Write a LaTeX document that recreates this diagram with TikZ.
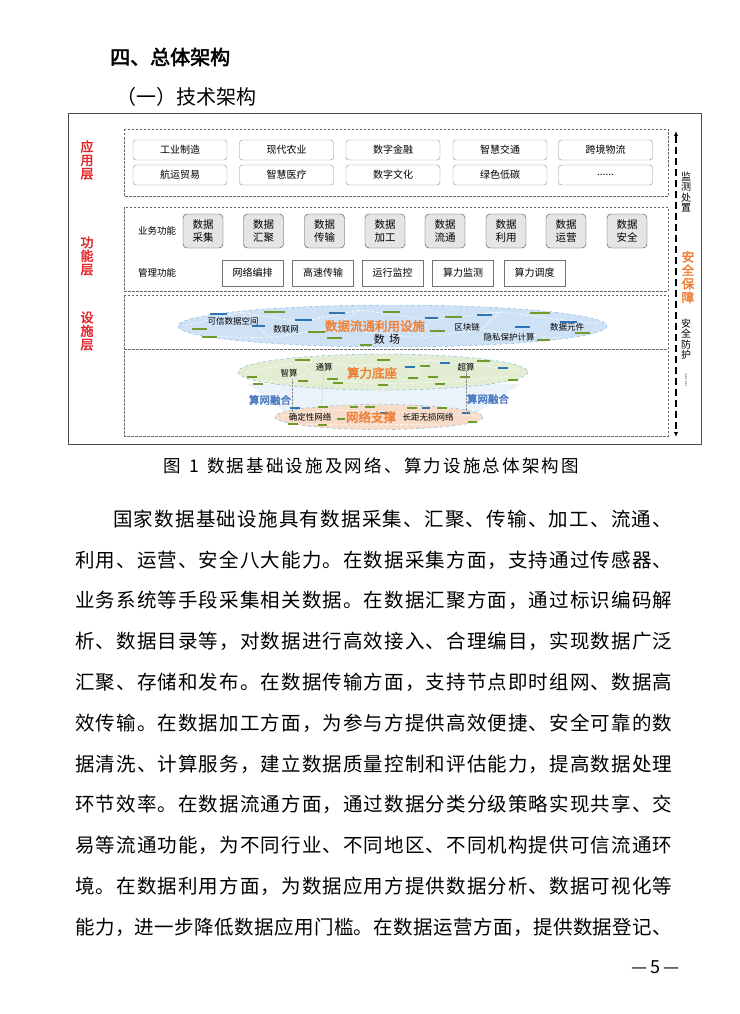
\documentclass[tikz,border=0pt]{standalone}
\usepackage{fontspec}
\setmainfont{Noto Sans CJK SC}
\newfontfamily\cjkb[FakeBold=2.5]{Noto Sans CJK SC}
\usetikzlibrary{arrows.meta}
\definecolor{lred}{HTML}{E3262A}
\definecolor{lorange}{HTML}{EE7F35}
\definecolor{lblue}{HTML}{4A78C2}
\definecolor{bfill}{HTML}{CFE2F5}
\definecolor{gfill}{HTML}{E2EDD3}
\definecolor{pfill}{HTML}{F8DCCA}
\definecolor{mfill}{HTML}{EAF3FA}
\definecolor{eline}{HTML}{6FB0DC}
\definecolor{barg}{HTML}{6E9B2A}
\definecolor{barb}{HTML}{2E75B6}
\makeatletter
\def\jl@a#1{\ifx#1\relax\else\hfil#1\expandafter\jl@a\fi}
\def\jl@b#1{#1\jl@a}
\newcommand\jline[2]{\hbox to #1{\jl@b#2\relax}}
\makeatother
\begin{document}
\begin{tikzpicture}[x=1pt,y=-1pt,
  frame/.style={draw=black!70,line width=0.8pt},
  dbox/.style={draw=black!60,dash pattern=on 2.5pt off 1.5pt,line width=0.6pt},
  appbox/.style={draw=black!45,rounded corners=3pt,minimum width=94,minimum height=20,inner sep=0pt,font=\fontsize{10}{12}\selectfont},
  bizbox/.style={draw=black!75,fill=black!10,rounded corners=4pt,minimum width=40,minimum height=34,inner sep=0pt,align=center,font=\fontsize{10.5}{13}\selectfont},
  mgbox/.style={draw=black!55,minimum width=61,minimum height=26,inner sep=0pt,font=\fontsize{10}{12}\selectfont},
  layer/.style={text=lred,align=center,inner sep=0pt,font=\cjkb\fontsize{13}{13.5}\selectfont},
  small/.style={inner sep=0pt,font=\fontsize{8.5}{10}\selectfont},
  otitle/.style={text=lorange,inner sep=0pt,font=\cjkb\fontsize{12.5}{14}\selectfont},
  btitle/.style={text=lblue,inner sep=0pt,font=\cjkb\fontsize{10.5}{12}\selectfont},
  body/.style={anchor=west,inner sep=0pt,font=\fontsize{19.5}{20}\selectfont},
  vtext/.style={align=center,inner sep=0pt,font=\fontsize{10}{10.5}\selectfont},
  gbar/.style={barg,line width=2.2pt},
  bbar/.style={barb,line width=2.2pt},
  mesh/.style={white,dash pattern=on 3pt off 2pt,line width=0.6pt,opacity=0.9}]
\fill[white] (0,0) rectangle (739,1014);
\useasboundingbox (0,0) rectangle (739,1014);

% headings
\node[anchor=west,inner sep=0pt,font=\cjkb\fontsize{20}{20}\selectfont] (h1) at (110,57) {四、总体架构};
\node[anchor=west,inner sep=0pt,font=\fontsize{20}{20}\selectfont] (h2) at (116,97) {（一）技术架构};

% frame and layer boxes
\draw[frame] (68,113) rectangle (701,444);
\draw[dbox] (124,129) rectangle (668,196);
\draw[dbox] (124,207) rectangle (668,291);
\draw[dbox] (124,295) rectangle (668,436);
\draw[dbox] (124,349) -- (668,349);

% layer labels
\node[layer] (la) at (87,160) {应\\用\\层};
\node[layer] (lf) at (87,256) {功\\能\\层};
\node[layer] (li) at (87,331) {设\\施\\层};

% application layer
\node[appbox] (a1) at (180,150) {工业制造};
\node[appbox] (a2) at (286.5,150) {现代农业};
\node[appbox] (a3) at (393,150) {数字金融};
\node[appbox] (a4) at (500,150) {智慧交通};
\node[appbox] (a5) at (605.5,150) {跨境物流};
\node[appbox] (b1) at (180,175) {航运贸易};
\node[appbox] (b2) at (286.5,175) {智慧医疗};
\node[appbox] (b3) at (393,175) {数字文化};
\node[appbox] (b4) at (500,175) {绿色低碳};
\node[appbox] (b5) at (605.5,175) {......};

% function layer
\node[inner sep=0pt,font=\fontsize{9.5}{11}\selectfont] (yw) at (157,231) {业务功能};
\node[inner sep=0pt,font=\fontsize{9.5}{11}\selectfont] (gl) at (157,273) {管理功能};
\node[bizbox] (f1) at (203,231) {数据\\采集};
\node[bizbox] (f2) at (263.5,231) {数据\\汇聚};
\node[bizbox] (f3) at (324.5,231) {数据\\传输};
\node[bizbox] (f4) at (385,231) {数据\\加工};
\node[bizbox] (f5) at (445,231) {数据\\流通};
\node[bizbox] (f6) at (506,231) {数据\\利用};
\node[bizbox] (f7) at (566,231) {数据\\运营};
\node[bizbox] (f8) at (627,231) {数据\\安全};
\node[mgbox] (m1) at (252.5,273) {网络编排};
\node[mgbox] (m2) at (323,273) {高速传输};
\node[mgbox] (m3) at (392.5,273) {运行监控};
\node[mgbox] (m4) at (463,273) {算力监测};
\node[mgbox] (m5) at (534.5,273) {算力调度};

% infrastructure layer
\fill[mfill] (248,384) -- (520,384) -- (478,412) -- (285,412) -- cycle;
\draw[eline,dashed,fill=bfill] (392.5,326) ellipse [x radius=214.5,y radius=21];
\draw[eline,dashed,fill=gfill] (383,372) ellipse [x radius=145,y radius=18];
\draw[eline,dashed,fill=pfill] (379,417) ellipse [x radius=104,y radius=12.5];

% mesh lines
\draw[mesh] (185,326) -- (240,312) -- (300,322) -- (360,310) -- (430,320) -- (500,312) -- (598,324);
\draw[mesh] (200,336) -- (270,338) -- (330,328) -- (420,338) -- (480,330) -- (560,338);
\draw[mesh] (240,312) -- (270,338) (360,310) -- (330,328) (430,320) -- (420,338) (500,312) -- (480,330);
\draw[mesh] (245,372) -- (300,362) -- (360,366) -- (430,360) -- (520,370);
\draw[mesh] (255,382) -- (320,380) -- (400,384) -- (470,380) -- (510,376);
\draw[mesh] (300,362) -- (320,380) (430,360) -- (400,384);
\draw[mesh] (282,416) -- (330,410) -- (400,412) -- (478,416);
\draw[mesh] (295,424) -- (360,425) -- (440,424);

% bars, blue ellipse
\foreach \a/\b/\y in {264/285/312,192/207/329,202/217/337,308/325/332,327/342/338,383/400/312,445/462/317,530/550/313,430/445/331,575/590/333,537/550/340,360/372/345}
  \draw[gbar] (\a,\y) -- (\b,\y);
\foreach \a/\b/\y in {210/227/314,252/265/326,329/345/313,295/312/320,425/438/318,477/492/315,515/530/327,560/577/322}
  \draw[bbar] (\a,\y) -- (\b,\y);
% bars, green ellipse
\foreach \a/\b/\y in {295/310/360,247/257/377,253/263/384,298/308/381,327/338/379,333/343/383,377/390/360,378/388/385,420/430/366,477/490/361,408/418/378,428/438/377,435/445/384,460/470/377,508/518/380}
  \draw[gbar] (\a,\y) -- (\b,\y);
\foreach \a/\b/\y in {405/415/367,440/450/363,498/508/368}
  \draw[bbar] (\a,\y) -- (\b,\y);
% bars, pink ellipse
\foreach \a/\b/\y in {288/298/424,318/328/407,318/327/425,337/345/419,350/358/407,365/375/407,407/417/408,437/447/408,468/477/422}
  \draw[gbar] (\a,\y) -- (\b,\y);
\foreach \a/\b/\y in {290/300/408,380/388/413,422/430/408,462/470/413}
  \draw[bbar] (\a,\y) -- (\b,\y);

% labels, data facilities
\node[otitle] (dt) at (375,326) {数据流通利用设施};
\node[inner sep=0pt,font=\fontsize{11}{12}\selectfont] (sc) at (387,339) {数\hspace{0.4em}场};
\node[small] (kx) at (233,321) {可信数据空间};
\node[small] (sl) at (286,329) {数联网};
\node[small] (qk) at (467,327) {区块链};
\node[small] (ys) at (509,337) {隐私保护计算};
\node[small] (yj) at (567,327) {数据元件};

% labels, computing
\node[otitle] (sl2) at (372,373) {算力底座};
\node[small] (zs) at (289,373) {智算};
\node[small] (ts) at (324,367) {通算};
\node[small] (cs) at (466,367) {超算};

% labels, network
\node[otitle] (wl) at (371,417) {网络支撑};
\node[small] (qd) at (310,417) {确定性网络};
\node[small] (cj) at (428,417) {长距无损网络};

\node[btitle] (sw1) at (270,400) {算网融合};
\node[btitle] (sw2) at (488,399) {算网融合};

\draw[black!45,densely dotted] (zs.south) ++(3,2) coordinate (z1) -- (z1 |- qd.north);
\draw[black!45,densely dotted] (ts.south) -- ([xshift=-3pt]ts.south |- qd.north);
\draw[black!45,densely dotted] (cs.south) -- (cs.south |- cj.north);

% security column
\coordinate (st) at (676,131);
\coordinate (sb) at (676,437);
\draw[line width=1.6pt,dash pattern=on 7pt off 4pt,{Latex[length=5pt,width=4.5pt]}-{Latex[length=5pt,width=4.5pt]}] (st) -- (sb);
\node[vtext] (jc) at (686,192) {监\\测\\处\\置};
\node[vtext,text=lorange,font=\cjkb\fontsize{12.5}{13.5}\selectfont] (aq) at (688,277) {安\\全\\保\\障};
\node[vtext] (fh) at (686,339) {安\\全\\防\\护};
\node[inner sep=0pt,rotate=-90,font=\fontsize{8}{8}\selectfont] (dd) at (686,380) {......};

% caption
\node[anchor=west,inner sep=0pt,font=\fontsize{17.5}{18}\selectfont] (cap) at (163,466) {\jline{416pt}{图~1~数据基础设施及网络、算力设施总体架构图}};

% body text
\node[body] (t1) at (113,519) {\jline{559pt}{国家数据基础设施具有数据采集、汇聚、传输、加工、流通、}};
\node[body] (t2) at (75,559.8) {\jline{597pt}{利用、运营、安全八大能力。在数据采集方面，支持通过传感器、}};
\node[body] (t3) at (75,600.6) {\jline{597pt}{业务系统等手段采集相关数据。在数据汇聚方面，通过标识编码解}};
\node[body] (t4) at (75,641.4) {\jline{597pt}{析、数据目录等，对数据进行高效接入、合理编目，实现数据广泛}};
\node[body] (t5) at (75,682.2) {\jline{597pt}{汇聚、存储和发布。在数据传输方面，支持节点即时组网、数据高}};
\node[body] (t6) at (75,723) {\jline{597pt}{效传输。在数据加工方面，为参与方提供高效便捷、安全可靠的数}};
\node[body] (t7) at (75,763.8) {\jline{597pt}{据清洗、计算服务，建立数据质量控制和评估能力，提高数据处理}};
\node[body] (t8) at (75,804.6) {\jline{597pt}{环节效率。在数据流通方面，通过数据分类分级策略实现共享、交}};
\node[body] (t9) at (75,845.4) {\jline{597pt}{易等流通功能，为不同行业、不同地区、不同机构提供可信流通环}};
\node[body] (t10) at (75,886.2) {\jline{597pt}{境。在数据利用方面，为数据应用方提供数据分析、数据可视化等}};
\node[body] (t11) at (75,927) {\jline{597pt}{能力，进一步降低数据应用门槛。在数据运营方面，提供数据登记、}};

\node[anchor=east,inner sep=0pt,font=\fontsize{18}{18}\selectfont] (pg) at (680,967) {—\,5\,—};
\end{tikzpicture}
\end{document}
